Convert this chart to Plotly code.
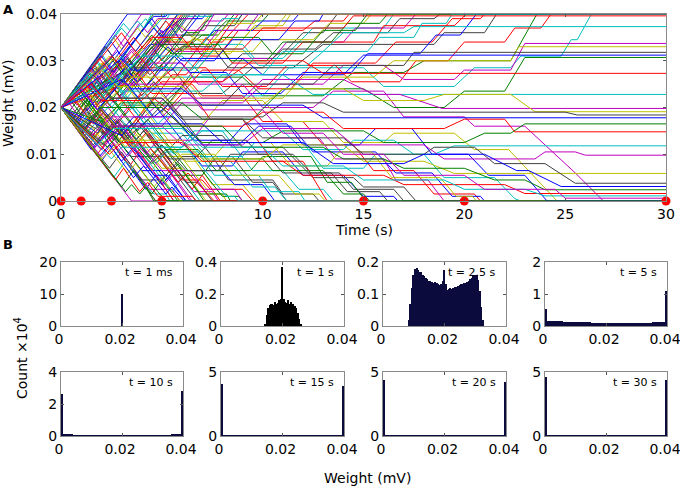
import plotly.graph_objects as go

# ---- Panel A: weight trajectories, flat lists [t0, w0, t1, w1, ...] with t in s and w in uV
top_paths = [
    [0, 20, 3.3, 40],
    [0, 20, 0.8, 24.5, 1.4, 21, 4.2, 37.5, 4.6, 40],
    [0, 20, 1.2, 26.5, 1.8, 23, 3, 30, 3.5, 27, 5.4, 38, 5.8, 40],
    [0, 20, 2, 31.5, 2.6, 28, 4.4, 38.5, 4.8, 36, 5.4, 40],
    [0, 20, 0.5, 17, 2.5, 28.5, 3, 25.5, 5, 36.5, 5.4, 34, 6.4, 40],
    [0, 20, 1, 14.5, 3.5, 28.5, 4, 26, 6, 37.5, 6.5, 35, 7.4, 40],
    [0, 20, 1.6, 29.5, 2.2, 26, 3.2, 31.5, 3.8, 28, 5.6, 38.5, 6, 36, 6.7, 40],
    [0, 20, 2.5, 34, 3, 31, 4.5, 39, 5, 36, 6, 39, 7, 39, 7.2, 40],
    [0, 20, 0.7, 24, 1.5, 19.5, 2.8, 27, 3.4, 23.5, 5.4, 35, 6, 32, 7, 35.5, 7.8, 35.5, 8.6, 40],
    [0, 20, 1.8, 10, 2.8, 16, 3.2, 13.5, 5.5, 27, 6.2, 27, 7.5, 34, 8, 34, 9.3, 40],
    [0, 20, 3, 37, 3.4, 35, 4.2, 39, 4.6, 37, 5, 39, 5.2, 40],
    [0, 20, 1.4, 27.5, 2, 24, 3.5, 32.5, 4, 30, 5, 35.5, 6.5, 35.5, 7.2, 38.5, 8, 38.5, 8.3, 40],
    [0, 20, 2, 29.5, 3, 24, 5, 34.5, 5.5, 31.5, 6.5, 34.5, 9, 34.5, 9.6, 37.5, 11, 37.5, 11.4, 40],
    [0, 20, 1, 14.5, 1.8, 19, 3, 12.5, 4.5, 21, 5, 19, 6.5, 27.5, 8, 27.5, 9, 31.5, 11, 31.5,
     12, 36, 13, 36, 13.7, 40],
    [0, 20, 2.2, 33, 2.8, 29.5, 4.6, 39.5, 5.2, 39.5, 5.3, 40],
    [0, 20, 0.6, 16.5, 2, 24.5, 2.5, 21.5, 4.5, 33, 5, 30, 6, 35.5, 7.5, 35.5, 8.2, 38.5, 10, 38.5,
     10.3, 40],
    [0, 20, 3, 29.5, 3.6, 26, 5, 34, 6.5, 34, 7, 31, 7.8, 31, 8.8, 36.5, 12, 36.5, 12.6, 38.5,
     14, 38.5, 14.3, 40],
    [0, 20, 1.5, 25.5, 2.5, 20, 4.8, 31.5, 5.4, 28, 6.5, 28, 7.5, 33.5, 9, 33.5, 9.6, 30.5,
     11, 30.5, 12.5, 37, 16, 37, 16.5, 40],
    [0, 20, 2, 13, 3.4, 20.5, 4, 17.5, 6, 25.5, 8, 25.5, 9, 30.5, 10.5, 30.5, 11.2, 34, 14, 34,
     14.6, 37, 17, 37, 17.6, 40],
    [0, 20, 2.4, 31, 3, 27.5, 4.5, 34.5, 6, 34.5, 6.5, 32, 9.5, 32, 10, 34.5, 12.5, 34.5, 13.3, 38,
     15, 38, 15.4, 40],
    [0, 20, 1, 26, 2, 21, 3.5, 28.5, 5.5, 28.5, 6.5, 23, 8, 23, 9.5, 28.5, 11.5, 28.5, 13, 33.5,
     18.5, 33.5, 19, 36, 21, 36, 21.6, 40],
    [0, 20, 2.8, 32, 3.4, 29, 4.4, 33.5, 7, 33.5, 7.6, 36.5, 9.5, 36.5, 10, 38.5, 11.5, 38.5, 11.8, 40],
    [0, 20, 1.6, 13.5, 3, 20.5, 5, 20.5, 6.5, 26.5, 9, 26.5, 10, 22.5, 13, 22.5, 14.5, 27.5,
     17, 27.5, 18, 30, 22.3, 30, 23.6, 40],
    [0, 20, 3, 27.5, 3.6, 24.5, 5.5, 32.5, 8, 32.5, 8.5, 29.5, 11, 29.5, 12, 34, 15.5, 34,
     16, 37.5, 19.5, 37.5, 20.1, 40],
    [0, 20, 1.2, 14, 2.6, 21.5, 3.2, 18.5, 5, 26.5, 7.5, 26.5, 8.2, 22.5, 10, 22.5, 11.3, 28.5,
     15, 28.5, 16, 24.5, 19.5, 24.5, 20.5, 28.5, 22.3, 28.5, 22.8, 31, 24.8, 31, 25.3, 34.5,
     25.6, 34.5, 26.3, 40],
    [0, 20, 0.4, 22.5, 0.8, 20.5, 3.8, 39, 4, 40],
    [0, 20, 1, 26, 1.4, 23.5, 2.6, 30.5, 3, 28, 4.3, 35.5, 4.7, 33, 5.9, 40],
    [0, 20, 0.4, 17.5, 1.8, 25.5, 2.2, 23, 3.4, 30, 3.9, 27, 6.1, 40],
    [0, 20, 2, 31, 2.6, 27.5, 3.2, 31, 3.8, 27.5, 5.5, 37, 5.9, 34.5, 6.9, 40],
    [0, 20, 0.5, 23, 1, 20, 2, 25.5, 2.4, 23.5, 4.5, 35.5, 5, 33, 6.2, 40],
    [0, 20, 1.3, 12.5, 2.4, 18.5, 2.8, 16.5, 5, 29, 5.6, 26, 7.2, 35, 7.6, 33, 8.8, 40],
    [0, 20, 1.8, 30, 2.3, 27, 3, 31, 3.5, 28, 4.8, 35.5, 5.6, 35.5, 6.3, 39.5, 7.5, 39.5, 7.6, 40],
    [0, 20, 0.9, 25, 1.6, 21, 2.4, 25.5, 3, 22, 5.2, 34.5, 5.7, 32, 7, 32, 7.8, 36.5, 9.2, 36.5,
     9.8, 40],
    [0, 20, 2.6, 35, 3, 32.5, 3.8, 37, 4.2, 35, 4.9, 39, 5.6, 39, 5.8, 40],
    [0, 20, 0.3, 18.5, 0.9, 22, 1.3, 20, 2.5, 26.5, 2.9, 24.5, 4.9, 36, 5.3, 34, 6.3, 40],
    [0, 20, 1.1, 26.5, 1.5, 24, 3.3, 34, 3.7, 32, 4.6, 37, 5, 35, 5.8, 40],
    [0, 20, 0.6, 23.5, 1.2, 20, 2.2, 26, 2.8, 23, 3.6, 27.5, 4.2, 24.5, 6.2, 36, 6.8, 36, 7.5, 40],
    [0, 20, 1.9, 30.5, 2.4, 28, 3.6, 35, 4.1, 32.5, 5.2, 38.5, 5.5, 37, 6, 40],
    [0, 20, 0.8, 15.5, 1.5, 19.5, 2.2, 16, 3.8, 25, 4.3, 22.5, 6.3, 33.5, 7, 33.5, 8, 39, 8.8, 39,
     9, 40],
    [0, 20, 2.7, 35.5, 3.1, 33, 3.9, 38, 4.3, 36, 4.8, 39, 6.5, 39, 6.7, 40],
    [0, 20, 1.4, 12.5, 2.2, 16.5, 2.9, 13, 4.8, 23.5, 5.4, 21, 7.4, 31.5, 8.4, 31.5, 9.5, 37,
     10.6, 37, 11.2, 40],
    [0, 20, 1.7, 28.5, 2.3, 25, 3.3, 30.5, 3.9, 27.5, 5, 33.5, 6.4, 33.5, 7.1, 37.5, 8.6, 37.5, 9, 40],
    [0, 20, 0.9, 24.5, 1.7, 20, 3.2, 28.5, 3.8, 25.5, 5.3, 33, 6, 30, 7.6, 30, 8.5, 34.5, 10.8, 34.5,
     11.6, 38.5, 12.8, 38.5, 13, 40],
    [0, 20, 2.3, 26, 2.9, 22.5, 4.4, 30.5, 5, 28, 6.2, 33.5, 7.8, 33.5, 8.4, 30, 10.2, 30, 11, 34,
     13.4, 34, 14.2, 38, 15.8, 38, 16.2, 40],
    [0, 20, 1.2, 17, 1.8, 20.5, 3.1, 14, 4.6, 22, 5.3, 19.5, 7, 28, 8.8, 28, 9.8, 24, 11.4, 24,
     12.5, 29.5, 15.6, 29.5, 16.6, 34, 18.4, 34, 19.4, 39, 20.8, 39, 21, 40],
    [0, 20, 3.1, 38, 3.4, 36.5, 3.8, 38.5, 4.1, 37, 4.5, 40],
    [0, 20, 1.5, 28, 2.1, 24.5, 3.5, 32, 4, 29.5, 5.7, 38, 6.1, 36.5, 7.1, 36.5, 7.6, 40],
    [0, 20, 0.7, 16.5, 1.6, 21.5, 2.3, 17.5, 4.1, 27.5, 4.7, 25, 6.6, 35, 7.3, 33, 8.3, 38, 9.6, 38,
     10, 40],
    [0, 20, 1.4, 26, 2.2, 21.5, 3.8, 30, 4.4, 27, 6, 33, 7.5, 33, 8.3, 28.5, 10, 28.5, 11, 32.5,
     12.6, 32.5, 13.5, 36, 16.2, 36, 16.8, 39, 18.5, 39, 18.8, 40],
    [0, 20, 0.9, 24.5, 1.8, 19.5, 3.3, 27, 4, 23.5, 5.6, 31, 6.4, 27.5, 8.2, 27.5, 9, 23, 10.9, 23,
     12, 27.5, 14.4, 27.5, 15.2, 31.5, 17.8, 31.5, 18.6, 35.5, 19.8, 35.5, 20.6, 40],
    [0, 20, 2.5, 30.5, 3.1, 27, 4.8, 34, 5.5, 31.5, 7.4, 31.5, 8, 35, 9.8, 35, 10.5, 31.5, 12, 31.5,
     13, 36.5, 14.6, 36.5, 15.2, 40],
    [0, 20, 3.2, 25, 3.8, 22, 5.6, 28.5, 7.2, 28.5, 8, 24.5, 10.2, 24.5, 11.2, 29, 13.6, 29,
     14.4, 25.5, 16.8, 25.5, 17.6, 30, 19.2, 30, 20, 34, 22, 34, 22.5, 37, 23.8, 37, 24.3, 40],
    [0, 20, 1.9, 28.5, 2.6, 24.5, 4.1, 31.5, 4.8, 28.5, 6.8, 28.5, 7.6, 32.5, 9, 32.5, 9.8, 29,
     12.2, 29, 13, 32, 15.2, 32, 15.8, 35, 17.5, 35, 17.9, 38, 19.1, 38, 19.4, 40],
]

bottom_paths = [
    [0, 20, 3.5, 0],
    [0, 20, 0.6, 23.5, 1.2, 20, 4.4, 1.5, 4.7, 0],
    [0, 20, 1, 14.5, 1.6, 18, 4.7, 0],
    [0, 20, 2, 8.5, 2.6, 12, 4.2, 2.5, 4.7, 5.5, 5.6, 0],
    [0, 20, 0.8, 24.5, 2.8, 12.5, 3.3, 15.5, 5.2, 4.5, 5.8, 8, 7.1, 0],
    [0, 20, 1.4, 12, 2, 15.5, 3.4, 7.5, 3.9, 10.5, 5.6, 0],
    [0, 20, 2.6, 5, 3.2, 8.5, 4.6, 1.5, 5.2, 1.5, 5.4, 0],
    [0, 20, 1.2, 27, 1.8, 23, 3.5, 13.5, 4, 16.5, 6.6, 2, 7.5, 2, 7.8, 0],
    [0, 20, 0.6, 16.5, 1.4, 21, 3, 12, 3.6, 15, 5, 7, 6, 7, 7.2, 0],
    [0, 20, 2.2, 33, 2.8, 29.5, 4, 22.5, 4.6, 25.5, 7.5, 9.5, 8.5, 9.5, 9.5, 4, 10.5, 4, 11.2, 0],
    [0, 20, 1.6, 11, 2.4, 15.5, 4, 6.5, 5, 6.5, 6.2, 0],
    [0, 20, 3, 3, 3.6, 6.5, 4.5, 1.5, 5, 4.5, 5.8, 0],
    [0, 20, 1, 14, 2, 19.5, 3.5, 11, 4.2, 14.5, 6, 4.5, 7, 4.5, 7.4, 2.5, 9, 2.5, 9.5, 0],
    [0, 20, 1.8, 29.5, 3, 23, 5, 11.5, 6, 11.5, 6.6, 15, 8, 15, 9.5, 6.5, 11, 6.5, 11.8, 2.5,
     13, 2.5, 13.5, 0],
    [0, 20, 2, 9.5, 2.6, 12.5, 4.4, 2.5, 5.5, 2.5, 5.9, 0],
    [0, 20, 0.5, 23, 1.5, 17, 2, 20, 4.5, 6.5, 5, 9.5, 6.5, 9.5, 7.5, 3.5, 9, 3.5, 9.7, 0],
    [0, 20, 2.4, 7, 3, 10.5, 4, 4.5, 5, 4.5, 6, 9.5, 7.5, 9.5, 8.3, 4.5, 10.5, 4.5, 11, 1.5,
     12.5, 1.5, 12.8, 0],
    [0, 20, 1.5, 28.5, 2.2, 24.5, 3.2, 28.5, 4, 24, 7, 7.5, 8.5, 7.5, 9, 10.5, 11, 10.5, 12, 5.5,
     14, 5.5, 15, 1, 16.5, 1, 16.7, 0],
    [0, 20, 1, 14.5, 2.4, 22.5, 3, 19, 5.5, 5.5, 7, 5.5, 7.6, 9, 10, 9, 10.5, 6.5, 13, 6.5,
     14, 1.5, 15, 1.5, 15.3, 0],
    [0, 20, 3, 36, 3.6, 32.5, 5, 25, 6.5, 25, 7, 22.5, 9, 22.5, 10, 17, 12, 17, 13, 12, 14.5, 12,
     15.5, 6.5, 17.5, 6.5, 18.5, 1.5, 20.5, 1.5, 20.8, 0],
    [0, 20, 2, 29, 2.6, 25.5, 4.5, 14.5, 6, 14.5, 7, 9.5, 9, 9.5, 9.6, 12.5, 12, 12.5, 13, 7,
     15, 7, 15.6, 10, 18, 10, 19, 5, 21.5, 5, 22.5, 0.5, 22.8, 0],
    [0, 20, 1.6, 26.5, 2.6, 21, 4.5, 29.5, 6, 29.5, 6.8, 25, 9, 25, 10, 20, 12.5, 20, 13.5, 23.5,
     16, 23.5, 17, 18, 20, 18, 20.5, 16, 23, 16, 25.5, 6, 26.9, 0],
    [0, 20, 2.8, 31, 3.4, 27, 5.5, 16.5, 7, 16.5, 8, 21.5, 10, 21.5, 11, 17, 13, 17, 14, 12.5,
     16, 12.5, 16.5, 14.5, 19.5, 14.5, 20.5, 11, 22.2, 11, 24.6, 0],
    [0, 20, 1.2, 13, 2, 17, 3.5, 9.5, 5, 9.5, 6, 14, 8, 14, 8.5, 11.5, 11, 11.5, 12.5, 5,
     14.5, 5, 15, 3, 17, 3, 17.6, 0],
    [0, 20, 1.8, 14.5, 2.4, 17.5, 5, 3.5, 5.6, 6.5, 8, 6.5, 8.6, 3.5, 10, 3.5, 10.6, 0],
    [0, 20, 0.4, 22, 1, 18.5, 1.4, 21, 4.8, 2, 5.2, 0],
    [0, 20, 1.2, 24, 1.8, 20.5, 2.6, 24, 3.2, 20.5, 6.5, 2.5, 7, 5.5, 7.9, 0],
    [0, 20, 0.8, 15.5, 1.4, 18.5, 2.2, 13.5, 2.8, 17, 5.5, 2, 6, 5, 6.9, 0],
    [0, 20, 2, 11, 2.8, 15, 4.2, 7, 4.8, 10, 6.5, 0],
    [0, 20, 1, 25.5, 1.8, 21, 3, 26.5, 3.6, 22.5, 7.4, 1.5, 8, 1.5, 8.2, 0],
    [0, 20, 0.7, 16, 1.3, 19, 2.1, 14, 2.7, 17.5, 3.5, 12, 4.1, 15, 6.7, 0],
    [0, 20, 1.5, 11, 2.1, 14, 3, 8.5, 3.6, 11.5, 4.6, 5.5, 5.3, 5.5, 6.2, 0],
    [0, 20, 0.5, 17, 1.2, 21.5, 2.6, 13, 3.2, 16.5, 4.4, 9, 5, 12, 6.9, 1.5, 8.2, 1.5, 8.4, 0],
    [0, 20, 2.2, 27.5, 2.8, 24, 3.8, 27.5, 4.5, 23, 6.5, 23, 7.4, 17.5, 9, 17.5, 10.5, 8.5,
     12, 8.5, 13.2, 0],
    [0, 20, 1.3, 27, 1.9, 23.5, 4.7, 8, 5.2, 10.5, 6.8, 10.5, 7.6, 5.5, 9.8, 5.5, 10.4, 2,
     11.8, 2, 12.1, 0],
    [0, 20, 0.3, 21.5, 0.9, 18, 1.3, 20, 2.6, 13, 3, 15, 5.1, 3.5, 5.5, 5.5, 6.4, 0],
    [0, 20, 1.1, 13.5, 1.5, 16, 3.3, 6, 3.7, 8, 4.6, 3, 5, 5, 5.9, 0],
    [0, 20, 0.6, 16.5, 1.2, 20, 2.2, 14, 2.8, 17, 3.6, 12.5, 4.2, 15.5, 6.2, 4, 6.8, 4, 7.5, 0],
    [0, 20, 1.9, 9.5, 2.4, 12, 3.6, 5, 4.1, 7.5, 5.2, 1.5, 5.5, 3, 6.1, 0],
    [0, 20, 0.8, 24.5, 1.5, 20.5, 2.2, 24, 3.8, 15, 4.3, 17.5, 6.3, 6.5, 7, 6.5, 8, 1, 8.8, 1, 9, 0],
    [0, 20, 2.7, 4.5, 3.1, 7, 3.9, 2, 4.3, 4, 4.8, 1, 6.5, 1, 6.7, 0],
    [0, 20, 1.4, 27.5, 2.2, 23.5, 2.9, 27, 4.8, 16.5, 5.4, 19, 7.4, 8.5, 8.4, 8.5, 9.5, 3,
     10.6, 3, 11.2, 0],
    [0, 20, 1.7, 11.5, 2.3, 15, 3.3, 9.5, 3.9, 12.5, 5, 6.5, 6.4, 6.5, 7.1, 2.5, 8.6, 2.5, 9, 0],
    [0, 20, 0.9, 15.5, 1.7, 20, 3.2, 11.5, 3.8, 14.5, 5.3, 7, 6, 10, 7.6, 10, 8.5, 5.5, 10.8, 5.5,
     11.6, 1.5, 12.8, 1.5, 13.1, 0],
    [0, 20, 2.3, 14, 2.9, 17.5, 4.4, 9.5, 5, 12, 6.2, 6.5, 7.8, 6.5, 8.4, 10, 10.2, 10, 11, 6,
     13.4, 6, 14.2, 2, 15.8, 2, 16.2, 0],
    [0, 20, 1.2, 23, 1.8, 19.5, 3.1, 26, 4.6, 18, 5.3, 20.5, 7, 12, 8.8, 12, 9.8, 16, 11.4, 16,
     12.5, 10.5, 15.6, 10.5, 16.6, 6, 18.4, 6, 19.4, 1, 20.8, 1, 21, 0],
    [0, 20, 3.2, 2, 3.5, 3.5, 3.9, 1.5, 4.2, 3, 4.6, 0],
    [0, 20, 0.5, 22.5, 1.6, 16.5, 2.1, 19, 3.7, 10, 4.2, 12.5, 5.8, 4, 6.3, 6, 7.6, 0],
    [0, 20, 1.3, 25.5, 2, 22, 2.7, 25.5, 3.4, 21.5, 5.6, 10, 6.1, 12, 8.2, 1, 8.6, 1, 8.8, 0],
    [0, 20, 2.1, 12, 2.9, 16.5, 4.2, 10, 4.8, 13, 6.5, 13, 7.3, 17.5, 9.6, 17.5, 10.5, 13.5,
     12.8, 13.5, 13.6, 9, 16, 9, 16.6, 4.5, 18.2, 4.5, 19, 0],
    [0, 20, 1.6, 13, 2.4, 17.5, 3.6, 11.5, 4.4, 15, 6.2, 8.5, 7.4, 8.5, 8.2, 12.5, 10.4, 12.5,
     11.4, 7.5, 13.2, 7.5, 13.8, 10.5, 15.4, 10.5, 16.4, 5, 18.8, 5, 19.6, 1, 20.4, 1, 20.6, 0],
    [0, 20, 1.1, 15, 2, 19.5, 3.2, 13, 3.9, 16, 5.4, 9, 6.6, 9, 7.5, 13, 9.2, 13, 9.8, 10, 11.5, 10,
     12.4, 6, 13.8, 6, 14.5, 2.5, 16.5, 2.5, 17, 0],
    [0, 20, 0.7, 16.5, 1.7, 21.5, 3, 15, 3.6, 18, 5.6, 18, 6.6, 13, 8.4, 13, 9.1, 16.5, 11.2, 16.5,
     12, 12, 14.8, 12, 15.6, 15.5, 17.4, 15.5, 18.4, 10, 20.2, 10, 21.2, 5.5, 23, 5.5, 24.1, 0],
    [0, 20, 2.3, 11.5, 3, 15, 4.5, 8, 5.2, 11, 6.8, 11, 7.7, 6.5, 9.4, 6.5, 10, 9.5, 12.4, 9.5,
     13.2, 4, 14.4, 4, 15.1, 0],
]

kept_paths = [
    [0, 20, 2.5, 31, 3, 28.5, 4.5, 35, 6, 35, 6.5, 32.5, 9, 32.5, 10, 37, 14, 37, 14.5, 39.6, 30, 39.6],
    [0, 20, 1.5, 27, 2.2, 23.5, 4, 31, 6, 31, 7, 27, 10, 27, 11, 32, 13, 32, 14, 36, 17, 36,
     17.5, 37.3, 30, 37.3],
    [0, 20, 2, 11, 3, 16, 5, 16, 6, 21, 9, 21, 10, 25, 13, 25, 14, 29, 16, 29, 17, 26, 19.5, 26,
     20, 28, 22.3, 28, 23, 33.7, 30, 33.7],
    [0, 20, 1, 24.5, 2, 20, 3.5, 26.5, 6, 26.5, 7, 22, 11, 22, 12, 26.5, 15.5, 26.5, 16.5, 30,
     22.3, 30, 22.7, 33, 30, 33],
    [0, 20, 1.6, 12, 2.4, 16, 4, 16, 5, 20.5, 8, 20.5, 9, 25, 12.5, 25, 13.5, 29, 17, 29,
     17.5, 31.8, 30, 31.8],
    [0, 20, 3, 30.5, 3.5, 28, 5.5, 28, 6, 30.5, 9, 30.5, 10, 27, 14, 27, 15, 31.2, 30, 31.2],
    [0, 20, 2, 17, 3, 21, 6, 21, 7, 17.5, 9.5, 17.5, 11, 24, 15, 24, 16.5, 20, 19, 20, 20, 23.5,
     22, 23.5, 23, 30.7, 30, 30.7],
    [0, 20, 1.2, 25, 2, 21.5, 4, 21.5, 5, 25.5, 8, 25.5, 9.5, 30, 12, 30, 13, 27.3, 30, 27.3],
    [0, 20, 2.5, 26, 3, 23.5, 7, 23.5, 8, 27, 11, 27, 12.5, 22.8, 30, 22.8],
    [0, 20, 1.5, 14, 2.5, 18, 5, 18, 6, 22, 9, 22, 10, 26, 14, 26, 15.5, 22.8, 16.8, 22.8,
     18.9, 19.8, 30, 19.8],
    [0, 20, 2, 28, 2.8, 24.5, 6, 24.5, 7, 20.5, 10, 20.5, 11, 24, 14, 24, 15, 21.5, 18, 21.5,
     19, 22.8, 22.3, 22.8, 23.5, 19.1, 30, 19.1],
    [0, 20, 1, 15.5, 2.5, 22, 5, 22, 6, 18, 10, 18, 11, 21, 13, 21, 14, 19, 25, 19, 25.6, 18.4, 30, 18.4],
    [0, 20, 3, 26, 3.5, 24, 6, 24, 7, 20.5, 12, 20.5, 13, 17.8, 30, 17.8],
    [0, 20, 2, 12, 3, 16, 6, 16, 7, 12.5, 10, 12.5, 11, 15, 15, 15, 16, 12.5, 20, 12.5, 21, 14.5,
     22.3, 14.5, 23, 16.5, 30, 16.5],
    [0, 20, 1.5, 25, 2.5, 20, 5, 20, 6, 16, 9, 16, 10, 19, 13, 19, 14, 15.5, 19, 15.5, 20, 17.5,
     22, 17.5, 22.5, 14.8, 30, 14.8],
    [0, 20, 2.5, 9, 3, 11.5, 6, 11.5, 7, 15, 11, 15, 12, 11, 14, 11, 14.5, 13, 16.5, 13, 17.5, 10,
     18.5, 10, 19.5, 11.8, 30, 11.8],
    [0, 20, 1, 24, 2.5, 16, 5, 16, 6, 12, 9, 12, 10, 15.5, 13.5, 15.5, 14.5, 12, 18, 12, 19, 9,
     23.5, 9, 24, 10.5, 25.5, 10.5, 26, 9.8, 30, 9.8],
    [0, 20, 2, 9, 3, 13, 6, 13, 7, 9, 10, 9, 11, 12, 14, 12, 15, 8.5, 18, 8.5, 19.5, 5.9, 30, 5.9],
    [0, 20, 1.6, 27, 2.5, 22, 5, 22, 6, 17.5, 9, 17.5, 10, 13.5, 14, 13.5, 15, 10, 18, 10,
     18.5, 11.5, 20.5, 11.5, 21.5, 8, 24, 8, 25.5, 3.8, 30, 3.8],
    [0, 20, 3, 14, 3.5, 16.5, 7, 16.5, 8, 12.5, 12, 12.5, 13.5, 8, 17, 8, 18, 10, 21, 10,
     22.6, 6.5, 23.2, 6.5, 24.8, 3.1, 30, 3.1],
    [0, 20, 1, 16, 2, 20, 5, 20, 6, 16, 8, 16, 9, 11.5, 13, 11.5, 14, 9, 16, 9, 17, 7, 20, 7,
     21.5, 4.5, 23, 4.5, 24, 2.4, 30, 2.4],
    [0, 20, 2.4, 10, 3, 12.5, 6, 12.5, 7, 8.5, 11, 8.5, 12, 5.5, 16, 5.5, 17, 3.5, 22, 3.5,
     23, 1.6, 30, 1.6],
    [0, 20, 1.8, 12, 2.6, 15.5, 6, 15.5, 7, 11.5, 10, 11.5, 11, 7.5, 14, 7.5, 15, 4.5, 19, 4.5,
     20, 2.5, 23, 2.5, 24, 1.1, 30, 1.1],
    [0, 20, 2.2, 29, 3, 25, 6, 25, 7, 19.5, 10, 19.5, 11, 14.5, 13, 14.5, 14, 10, 16, 10, 17, 5.5,
     20, 5.5, 21, 2.5, 24.5, 2.5, 25, 0.6, 30, 0.6],
]

snapshot_times = [0.001, 1, 2.5, 5, 10, 15, 20, 30]

# ---- Panel B: histograms (bin centres in uV, counts in units of 1e4)
hist_1ms_x = [20]
hist_1ms_y = [10]

hist_1s_x = [14.5, 15, 15.5, 16, 16.5, 17, 17.5, 18, 18.5, 19, 19.5, 20,
             20.5, 21, 21.5, 22, 22.5, 23, 23.5, 24, 24.5, 25, 25.5, 26]
hist_1s_y = [0.01, 0.07, 0.11, 0.13, 0.14, 0.13, 0.15, 0.14, 0.145, 0.16, 0.17, 0.37,
             0.17, 0.15, 0.145, 0.16, 0.135, 0.15, 0.14, 0.125, 0.11, 0.08, 0.045, 0.01]

hist_2500ms_x = [8.5, 9, 9.5, 10, 10.5, 11, 11.5, 12, 12.5, 13, 13.5, 14, 14.5, 15, 15.5, 16,
                 16.5, 17, 17.5, 18, 18.5, 19, 19.5, 20, 20.5, 21, 21.5, 22, 22.5, 23, 23.5,
                 24, 24.5, 25, 25.5, 26, 26.5, 27, 27.5, 28, 28.5, 29, 29.5, 30, 30.5, 31,
                 31.5, 32, 32.5]
hist_2500ms_y = [0.02, 0.07, 0.12, 0.16, 0.178, 0.182, 0.176, 0.17, 0.168, 0.158, 0.155, 0.15,
                 0.147, 0.14, 0.142, 0.138, 0.135, 0.136, 0.133, 0.13, 0.128, 0.13, 0.14, 0.174,
                 0.13, 0.112, 0.115, 0.118, 0.117, 0.12, 0.122, 0.121, 0.125, 0.127, 0.13,
                 0.13, 0.134, 0.135, 0.138, 0.14, 0.146, 0.15, 0.155, 0.158, 0.16, 0.145,
                 0.11, 0.06, 0.02]

body_1uV_x = [0.5 + k for k in range(40)]
body_2uV_x = [1 + 2 * k for k in range(20)]

hist_5s_body = [0.17, 0.16, 0.155, 0.15, 0.148, 0.145, 0.14, 0.135, 0.13, 0.128, 0.125, 0.12,
                0.118, 0.115, 0.11, 0.108, 0.105, 0.1, 0.1, 0.098, 0.095, 0.095, 0.093, 0.092,
                0.09, 0.09, 0.092, 0.093, 0.095, 0.095, 0.098, 0.1, 0.1, 0.105, 0.108, 0.11,
                0.115, 0.12, 0.13, 0.14]
hist_10s_body = [0.09, 0.07, 0.06, 0.055, 0.05, 0.05, 0.045, 0.045, 0.04, 0.04,
                 0.04, 0.04, 0.045, 0.045, 0.05, 0.05, 0.055, 0.06, 0.07, 0.09]
hist_15s_body = [0.03, 0.025, 0.02, 0.02, 0.018, 0.016, 0.015, 0.015, 0.014, 0.014,
                 0.014, 0.014, 0.015, 0.015, 0.016, 0.018, 0.02, 0.02, 0.025, 0.03]
hist_20s_body = [0.02, 0.018, 0.015, 0.014, 0.012, 0.012, 0.011, 0.01, 0.01, 0.01,
                 0.01, 0.01, 0.01, 0.011, 0.012, 0.012, 0.014, 0.015, 0.018, 0.02]
hist_30s_body = [0.015, 0.012, 0.01, 0.009, 0.008, 0.008, 0.007, 0.007, 0.006, 0.006,
                 0.006, 0.006, 0.007, 0.007, 0.008, 0.008, 0.009, 0.01, 0.012, 0.015]

edge_low = [0.52, 2.62, 4.06, 4.4, 4.6]      # t = 5, 10, 15, 20, 30 s at 0 mV
edge_high = [1.09, 2.83, 3.93, 4.19, 4.4]    # same, at 0.04 mV

panel_labels = ["t = 1 ms", "t = 1 s", "t = 2.5 s", "t = 5 s",
                "t = 10 s", "t = 15 s", "t = 20 s", "t = 30 s"]
panel_ymax = [20, 0.4, 0.2, 2, 4, 5, 5, 5]
panel_yticks = [[0, 10, 20], [0, 0.2, 0.4], [0, 0.1, 0.2], [0, 1, 2],
                [0, 2, 4], [0, 5], [0, 5], [0, 5]]

MATLAB_COLORS = ['#0000ff', '#008000', '#ff0000', '#00bfbf', '#bf00bf', '#bfbf00', '#404040']
NAVY = '#0b0b3d'
FONT = 'DejaVu Sans'
W, H = 680, 489


def px_x(p):
    return p / W


def px_y(p):
    return 1 - p / H


fig = go.Figure()

# Panel A lines
all_paths = top_paths + bottom_paths + kept_paths
for i, p in enumerate(all_paths):
    t = list(p[0::2])
    w = [v / 1000 for v in p[1::2]]
    if t[-1] < 30:  # absorbed weights stay at the bound
        t.append(30)
        w.append(w[-1])
    fig.add_trace(go.Scatter(x=t, y=w, mode='lines', hoverinfo='skip',
                             line=dict(color=MATLAB_COLORS[i % 7], width=1),
                             xaxis='x', yaxis='y'))

fig.add_trace(go.Scatter(x=snapshot_times, y=[0] * len(snapshot_times), mode='markers',
                         marker=dict(color='#ff0000', size=9, line=dict(width=0)),
                         cliponaxis=False, xaxis='x', yaxis='y', hoverinfo='skip'))

# Panel B histograms
hist_sets = [
    [(hist_1ms_x, hist_1ms_y, 0.5)],
    [(hist_1s_x, hist_1s_y, 0.5)],
    [(hist_2500ms_x, hist_2500ms_y, 0.5)],
    [(body_1uV_x, hist_5s_body, 1.0)],
    [(body_2uV_x, hist_10s_body, 2.0)],
    [(body_2uV_x, hist_15s_body, 2.0)],
    [(body_2uV_x, hist_20s_body, 2.0)],
    [(body_2uV_x, hist_30s_body, 2.0)],
]
for k in range(5):
    hist_sets[3 + k].append(([0.25, 39.75], [edge_low[k], edge_high[k]], 0.5))

for idx, sets in enumerate(hist_sets):
    n = idx + 2
    colour = '#000000' if idx == 1 else NAVY
    for xs, ys, wd in sets:
        fig.add_trace(go.Bar(x=[v / 1000 for v in xs], y=ys, width=wd / 1000,
                             marker=dict(color=colour, line=dict(width=0)),
                             xaxis='x%d' % n, yaxis='y%d' % n, hoverinfo='skip'))

axis_style = dict(showline=True, linecolor='#8a8a8a', linewidth=1, mirror='ticks',
                  ticks='inside', ticklen=3, tickcolor='#555555', showgrid=False,
                  zeroline=False, automargin=False, ticklabeloverflow='allow',
                  tickfont=dict(family=FONT, size=14, color='black'))

layout = dict(
    width=W, height=H, margin=dict(l=0, r=0, t=0, b=0, autoexpand=False),
    paper_bgcolor='white', plot_bgcolor='white', showlegend=False,
    barmode='overlay', bargap=0, font=dict(family=FONT, size=14, color='black'),
    xaxis=dict(axis_style, domain=[px_x(61), px_x(666)], range=[0, 30],
               tickvals=[0, 5, 10, 15, 20, 25, 30], anchor='y'),
    yaxis=dict(axis_style, domain=[px_y(201), px_y(14)], range=[0, 0.04],
               tickvals=[0, 0.01, 0.02, 0.03, 0.04], ticktext=['0', '0.01', '0.02', '0.03', '0.04'],
               anchor='x'),
)

col_px = [(61, 183), (221, 344), (383, 506), (545, 667)]
row_px = [(262, 326), (372, 436)]
annotations = []
for idx in range(8):
    n = idx + 2
    c0, c1 = col_px[idx % 4]
    r0, r1 = row_px[idx // 4]
    layout['xaxis%d' % n] = dict(axis_style, domain=[px_x(c0), px_x(c1)], range=[0, 0.04],
                                 tickvals=[0, 0.02, 0.04], ticktext=['0', '0.02', '0.04'],
                                 ticklabelshift=-2, anchor='y%d' % n)
    layout['yaxis%d' % n] = dict(axis_style, domain=[px_y(r1), px_y(r0)],
                                 range=[0, panel_ymax[idx]], tickvals=panel_yticks[idx],
                                 ticktext=[('%g' % v) for v in panel_yticks[idx]],
                                 anchor='x%d' % n)
    annotations.append(dict(text=panel_labels[idx], xref='x%d domain' % n, yref='y%d domain' % n,
                            x=1, y=1, xanchor='right', yanchor='top', xshift=-8, yshift=-2,
                            showarrow=False, font=dict(family=FONT, size=11, color='black')))


def label(text, x, y, size=14, angle=0):
    return dict(text=text, x=px_x(x), y=px_y(y), xref='paper', yref='paper', showarrow=False,
                xanchor='center', yanchor='middle', textangle=angle,
                font=dict(family=FONT, size=size, color='black'))


annotations += [
    label('<b>A</b>', 8, 9, size=13),
    label('<b>B</b>', 8, 244, size=13),
    label('Weight (mV)', 8, 104, angle=-90),
    label('Time (s)', 364, 230),
    label('Count ×10<sup>4</sup>', 21, 358, angle=-90),
    label('Weight (mV)', 367, 478),
]

layout['annotations'] = annotations
fig.update_layout(layout)

# the page's default body margin would shift the figure by 8 px
fig.write_html("out.html", config={'displayModeBar': False},
               post_script="document.body.style.margin = '0px';")
